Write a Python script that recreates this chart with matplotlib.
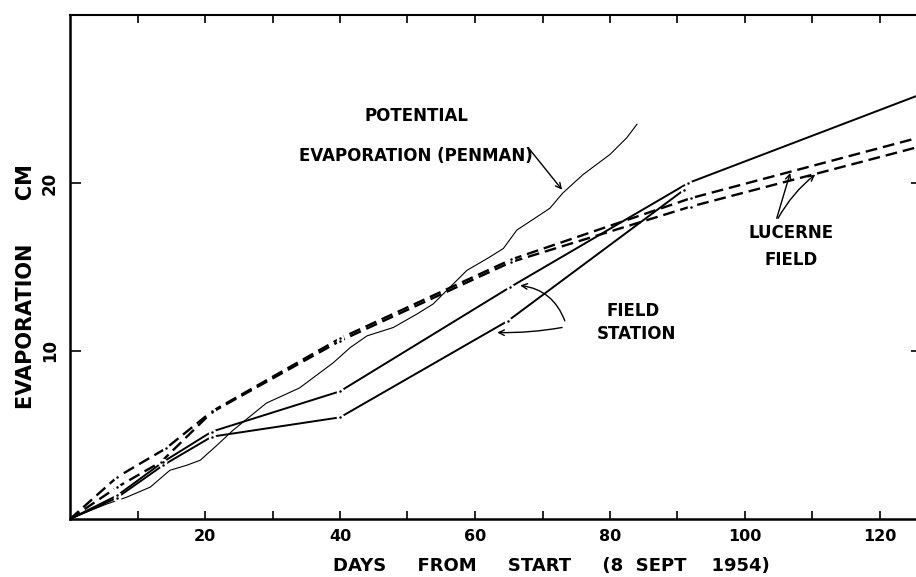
import numpy as np
import matplotlib
matplotlib.use("Agg")
import matplotlib.pyplot as plt

# Potential evaporation (Penman), thin wavy curve
penman_days = [0, 3, 5.5, 8.4, 11.9, 14.8, 17.3, 19.3, 21.8, 24.2, 29.1, 34, 39, 41.5,
               44, 47.9, 51.4, 53.8, 56.3, 58.8, 61.8, 64.2, 66.2, 68.1, 71.1, 73,
               76, 80, 82.5, 84]
penman_cm = [0, 0.5, 0.9, 1.3, 1.9, 2.9, 3.2, 3.5, 4.4, 5.3, 6.9, 7.8, 9.3, 10.2,
             10.9, 11.4, 12.2, 12.8, 13.8, 14.8, 15.5, 16.1, 17.2, 17.7, 18.5, 19.4,
             20.5, 21.7, 22.7, 23.5]

# Field station (two gauges)
station_a_days = [0, 7, 13.8, 21, 40, 65.2, 91.6, 126.2]
station_a_cm = [0, 1.4, 3.4, 5.2, 7.6, 13.8, 20.0, 25.3]
station_b_days = [0, 6.9, 13.8, 21, 40, 64.9, 91]
station_b_cm = [0, 1.25, 3.2, 4.9, 6.05, 11.8, 19.6]

# Lucerne field (two sites)
lucerne_a_days = [0, 7, 14.2, 21, 40, 65.4, 92, 126.2]
lucerne_a_cm = [0, 2.5, 4.2, 6.4, 10.75, 15.45, 19.1, 22.75]
lucerne_b_days = [0, 7, 13.5, 21, 40, 65.4, 92, 126.2]
lucerne_b_cm = [0, 1.9, 3.4, 6.35, 10.6, 15.3, 18.6, 22.2]

x_major = [20, 40, 60, 80, 100, 120]
x_minor = [10, 30, 50, 70, 90, 110]
y_major = [10, 20]

W, H = 916, 577
fig = plt.figure(figsize=(W / 100, H / 100), dpi=100)
x0, y0 = 70, 519
xmax, ymax = 126.2, 30
px_day = 6.75
ax = fig.add_axes([x0 / W, (H - y0) / H, xmax * px_day / W, (y0 - 15) / H])
ax.set_xlim(0, xmax)
ax.set_ylim(0, ymax)


def broken_line(days, vals, lw, ls):
    # line with a small gap and a dot at each measured point
    ax.plot(days, vals, color="black", lw=lw, linestyle=ls, zorder=2,
            dash_capstyle="butt", solid_capstyle="butt")
    ax.plot(days[1:], vals[1:], linestyle="none", marker="o", ms=5.5,
            mfc="white", mec="none", zorder=3)
    ax.plot(days[1:], vals[1:], linestyle="none", marker="o", ms=1.8,
            mfc="black", mec="none", zorder=4)


ax.plot(penman_days, penman_cm, color="black", lw=0.8, zorder=2)
broken_line(station_a_days, station_a_cm, 1.4, "-")
broken_line(station_b_days, station_b_cm, 1.4, "-")
broken_line(lucerne_a_days, lucerne_a_cm, 1.7, (0, (5, 2.5)))
broken_line(lucerne_b_days, lucerne_b_cm, 1.7, (0, (5, 2.5)))

# axes styling
for side in ["left", "bottom"]:
    ax.spines[side].set_linewidth(1.8)
ax.spines["top"].set_linewidth(1.5)
ax.spines["right"].set_visible(False)
ax.set_xticks(x_major)
ax.set_xticks(x_minor, minor=True)
ax.set_yticks(y_major)
ax.tick_params(axis="x", which="both", direction="in", top=True, length=6,
               width=1.2, pad=7)
ax.tick_params(axis="y", which="both", direction="in", right=True, length=8,
               width=1.2, pad=8)
for lab in ax.get_xticklabels():
    lab.set_fontweight("bold")
    lab.set_fontsize(11.5)
for lab in ax.get_yticklabels():
    lab.set_fontweight("bold")
    lab.set_fontsize(12)
    lab.set_rotation(90)
    lab.set_va("center")

ax.set_xlabel("DAYS     FROM     START     (8  SEPT    1954)", fontsize=13,
              fontweight="bold")
ax.set_ylabel("EVAPORATION      CM", fontsize=15, fontweight="bold")
ax.xaxis.label.set_va("center")
ax.yaxis.label.set_va("center")
ax.xaxis.set_label_coords((551 - x0) / (xmax * px_day), -(566 - y0) / (y0 - 15))
ax.yaxis.set_label_coords(-(x0 - 26) / (xmax * px_day), (y0 - 287) / (y0 - 15))

tkw = dict(fontsize=12, fontweight="bold", ha="center", va="center")
ax.text(51.4, 24.0, "POTENTIAL", **tkw)
ax.text(51.3, 21.6, "EVAPORATION (PENMAN)", **tkw)
ax.text(106.8, 17.0, "LUCERNE", **tkw)
ax.text(106.8, 15.4, "FIELD", **tkw)
ax.text(83.4, 12.4, "FIELD", **tkw)
ax.text(83.9, 11.0, "STATION", **tkw)

akw = dict(arrowstyle="->", color="black", lw=1.0, mutation_scale=10,
           shrinkA=0, shrinkB=0)
ax.annotate("", xy=(72.9, 19.6), xytext=(68.1, 22.0), arrowprops=akw)
ax.annotate("", xy=(106.7, 20.6), xytext=(104.7, 17.9), arrowprops=akw)
ax.annotate("", xy=(110.4, 20.5), xytext=(104.9, 17.9),
            arrowprops=dict(akw, connectionstyle="arc3,rad=-0.1"))
ax.annotate("", xy=(66.7, 13.9), xytext=(73.3, 11.8),
            arrowprops=dict(akw, connectionstyle="arc3,rad=0.3"))
ax.annotate("", xy=(63.3, 11.1), xytext=(72.9, 11.4),
            arrowprops=dict(akw, connectionstyle="arc3,rad=-0.05"))

fig.savefig("out.png", dpi=100)
